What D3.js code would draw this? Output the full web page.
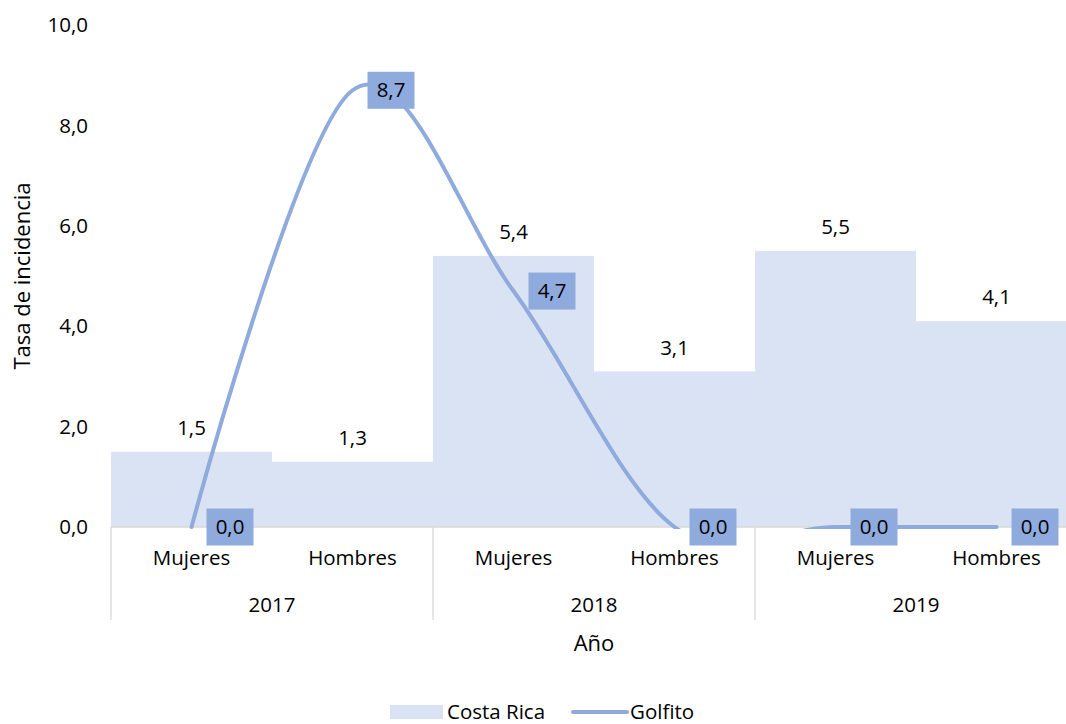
<!DOCTYPE html>
<html lang="es">
<head>
<meta charset="UTF-8">
<title>Tasa de incidencia</title>
<script src="https://d3js.org/d3.v7.min.js"></script>
<style>
  html, body { margin: 0; padding: 0; background: #fff; }
  svg text { font-family: "Open Sans", "Noto Sans", sans-serif; fill: #000; }
</style>
</head>
<body>
<svg id="chart" width="1066" height="724"></svg>
<script>
// data
const years = ["2017", "2018", "2019"];
const sexes = ["Mujeres", "Hombres"];
const costaRica = [1.5, 1.3, 5.4, 3.1, 5.5, 4.1];
const golfito = [0.0, 8.7, 4.7, 0.0, 0.0, 0.0];
const yTicks = [0, 2, 4, 6, 8, 10];

const cats = [];
years.forEach(y => sexes.forEach(s => cats.push({ year: y, sex: s, key: y + "-" + s })));

const svg = d3.select("#chart");
// plot runs slightly past the right edge of the picture
const plotL = 111, plotR = 1077, plotT = 25, plotB = 527;
const fs = 20.5;
const fmt = v => d3.format(".1f")(v).replace(".", ",");

const x = d3.scaleBand().domain(cats.map(d => d.key)).range([plotL, plotR]).padding(0);
const y = d3.scaleLinear().domain([0, 10]).range([plotB, plotT]);

const barColor = "#dae3f3";
const lineColor = "#8faadc";

// bars (Costa Rica)
svg.append("g").selectAll("rect")
  .data(costaRica)
  .enter().append("rect")
  .attr("x", (d, i) => x(cats[i].key))
  .attr("width", x.bandwidth())
  .attr("y", d => y(d))
  .attr("height", d => y(0) - y(d))
  .attr("fill", barColor);

// axis line + multi-level separators
svg.append("line")
  .attr("x1", plotL).attr("x2", plotR)
  .attr("y1", plotB).attr("y2", plotB)
  .attr("stroke", "#d9d9d9").attr("stroke-width", 1.3);

const yearEdges = years.map(yr => x(yr + "-" + sexes[0]));
svg.append("g").selectAll("line")
  .data(yearEdges)
  .enter().append("line")
  .attr("x1", d => d).attr("x2", d => d)
  .attr("y1", plotB).attr("y2", 620)
  .attr("stroke", "#d9d9d9").attr("stroke-width", 1.3);

// y axis labels
svg.append("g").selectAll("text")
  .data(yTicks)
  .enter().append("text")
  .attr("x", 88)
  .attr("y", d => y(d))
  .attr("dy", "0.35em")
  .attr("text-anchor", "end")
  .attr("font-size", fs)
  .text(d => fmt(d));

// category labels
svg.append("g").selectAll("text")
  .data(cats)
  .enter().append("text")
  .attr("x", d => x(d.key) + x.bandwidth() / 2)
  .attr("y", 558).attr("dy", "0.35em")
  .attr("text-anchor", "middle")
  .attr("font-size", fs)
  .text(d => d.sex);

svg.append("g").selectAll("text")
  .data(years)
  .enter().append("text")
  .attr("x", d => x(d + "-" + sexes[0]) + x.bandwidth())
  .attr("y", 605).attr("dy", "0.35em")
  .attr("text-anchor", "middle")
  .attr("font-size", fs)
  .text(d => d);

// bar labels
svg.append("g").selectAll("text")
  .data(costaRica)
  .enter().append("text")
  .attr("x", (d, i) => x(cats[i].key) + x.bandwidth() / 2)
  .attr("y", d => y(d) - 24).attr("dy", "0.35em")
  .attr("text-anchor", "middle")
  .attr("font-size", fs)
  .text(d => fmt(d));

// Golfito line, smoothed and clipped to plot area
svg.append("clipPath").attr("id", "plotClip")
  .append("rect")
  .attr("x", plotL - 5).attr("y", 0)
  .attr("width", plotR - plotL + 10).attr("height", plotB + 2);

const line = d3.line()
  .x((d, i) => x(cats[i].key) + x.bandwidth() / 2)
  .y(d => y(d))
  .curve(d3.curveCardinal.tension(0));

svg.append("path")
  .datum(golfito)
  .attr("clip-path", "url(#plotClip)")
  .attr("d", line)
  .attr("fill", "none")
  .attr("stroke", lineColor)
  .attr("stroke-width", 4)
  .attr("stroke-linecap", "round");

// Golfito labels
const lbl = svg.append("g").selectAll("g")
  .data(golfito)
  .enter().append("g")
  .attr("transform", (d, i) => `translate(${x(cats[i].key) + x.bandwidth() / 2 + 15},${y(d)})`);
lbl.append("rect")
  .attr("x", 0).attr("y", -18.5)
  .attr("width", 47).attr("height", 37)
  .attr("fill", lineColor);
lbl.append("text")
  .attr("x", 23.5).attr("y", 0)
  .attr("dy", "0.35em")
  .attr("text-anchor", "middle")
  .attr("font-size", fs)
  .text(d => fmt(d));

// axis titles
svg.append("text")
  .attr("x", 594).attr("y", 643).attr("dy", "0.35em")
  .attr("text-anchor", "middle")
  .attr("font-size", 22)
  .text("Año");

svg.append("text")
  .attr("transform", `translate(22,${(plotT + plotB) / 2}) rotate(-90)`)
  .attr("dy", "0.35em")
  .attr("text-anchor", "middle")
  .attr("font-size", 22)
  .text("Tasa de incidencia");

// legend
const legend = svg.append("g");
legend.append("rect")
  .attr("x", 390).attr("y", 705)
  .attr("width", 53).attr("height", 14)
  .attr("fill", barColor);
legend.append("text")
  .attr("x", 447).attr("y", 712).attr("dy", "0.35em")
  .attr("font-size", fs)
  .text("Costa Rica");
legend.append("line")
  .attr("x1", 573).attr("x2", 627)
  .attr("y1", 712).attr("y2", 712)
  .attr("stroke", lineColor).attr("stroke-width", 4)
  .attr("stroke-linecap", "round");
legend.append("text")
  .attr("x", 630).attr("y", 712).attr("dy", "0.35em")
  .attr("font-size", fs)
  .text("Golfito");
</script>
</body>
</html>
